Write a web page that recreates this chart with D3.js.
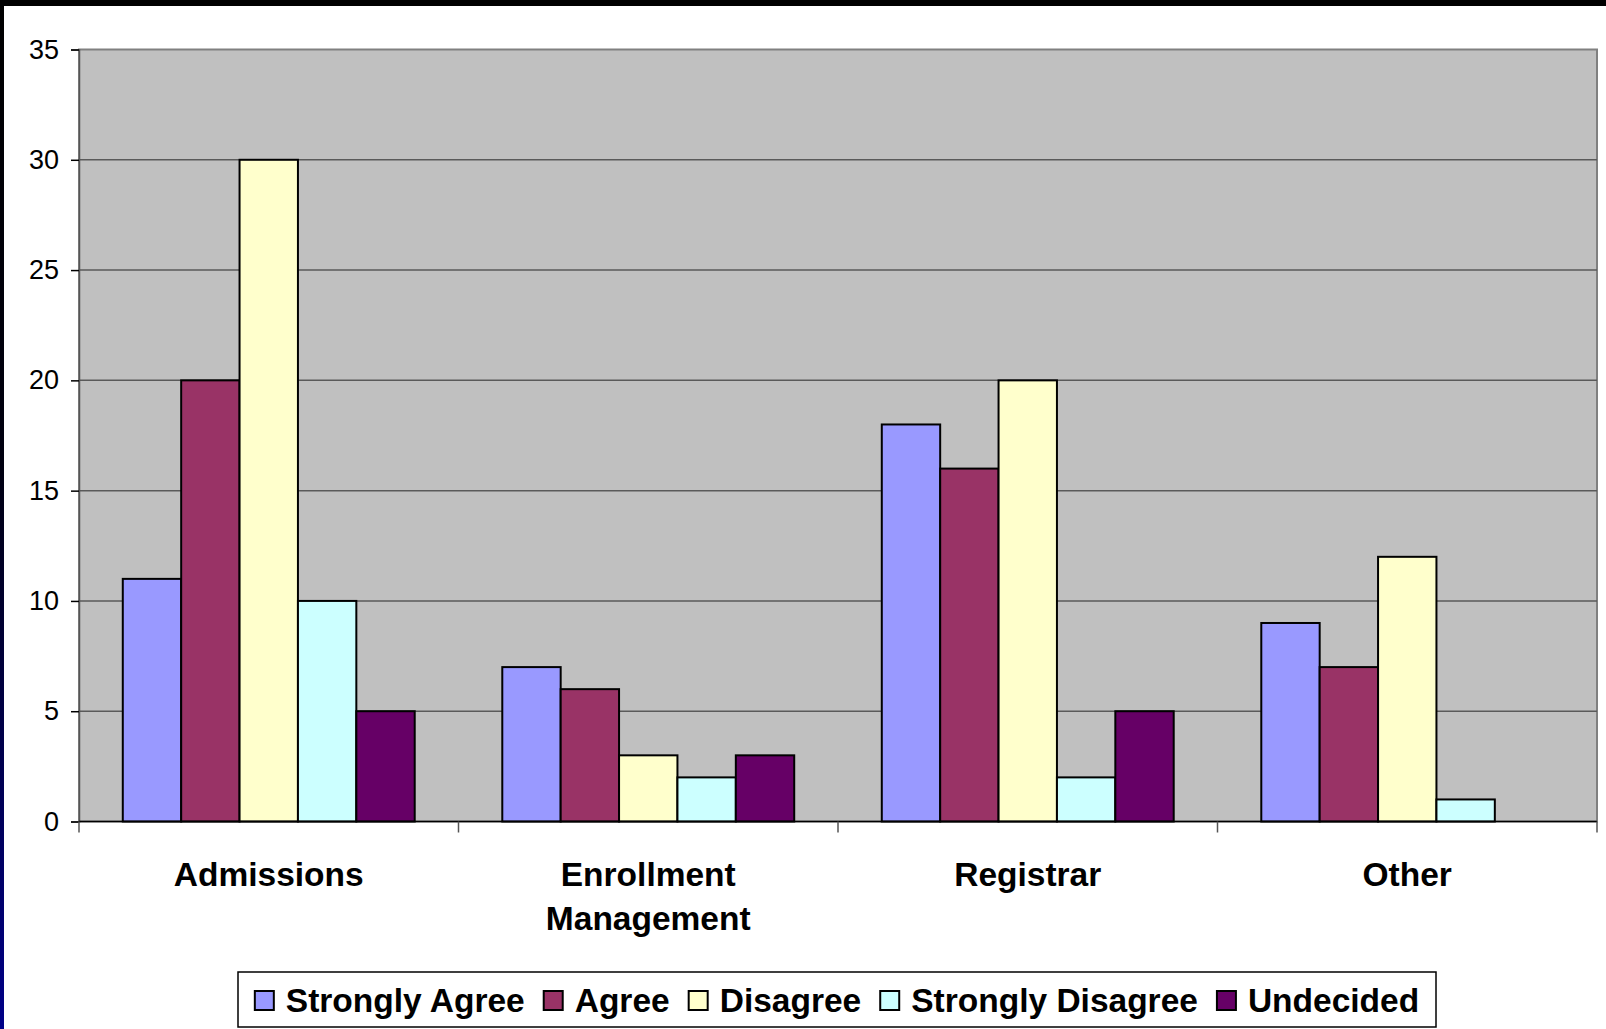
<!DOCTYPE html>
<html><head><meta charset="utf-8">
<script src="https://cdn.jsdelivr.net/npm/d3@7"></script>
<style>
html,body{margin:0;padding:0;background:#fff;}
svg{display:block;font-family:"Liberation Sans",Arial,sans-serif;}
</style></head>
<body>
<svg id="chart" width="1606" height="1029"></svg>
<script>
const categories = [["Admissions"], ["Enrollment","Management"], ["Registrar"], ["Other"]];
const seriesNames = ["Strongly Agree","Agree","Disagree","Strongly Disagree","Undecided"];
const seriesColors = ["#9999FF","#993366","#FFFFCC","#CCFFFF","#660066"];
const stronglyAgree = [11, 7, 18, 9];
const agree = [20, 6, 16, 7];
const disagree = [30, 3, 20, 12];
const stronglyDisagree = [10, 2, 2, 1];
const undecided = [5, 3, 5, 0];
const yTicks = [0,5,10,15,20,25,30,35];

const seriesValues = [stronglyAgree, agree, disagree, stronglyDisagree, undecided];

const svg = d3.select("#chart");
const W = 1606, H = 1029;
const plot = {left:79, right:1597, top:49.5, bottom:821.5};

// frame decorations
const defs = svg.append("defs");
const g1 = defs.append("linearGradient").attr("id","leftStrip").attr("x1",0).attr("y1",0).attr("x2",0).attr("y2",1);
g1.append("stop").attr("offset","0").attr("stop-color","#000000");
g1.append("stop").attr("offset","0.45").attr("stop-color","#000010");
g1.append("stop").attr("offset","1").attr("stop-color","#000088");
svg.append("rect").attr("x",0).attr("y",0).attr("width",W).attr("height",H).attr("fill","#fff");
svg.append("rect").attr("x",0).attr("y",0).attr("width",4).attr("height",H).attr("fill","url(#leftStrip)");
svg.append("rect").attr("x",0).attr("y",0).attr("width",W).attr("height",6).attr("fill","#000");

const x0 = d3.scaleBand().domain(d3.range(categories.length)).range([plot.left, plot.right]).paddingInner(0).paddingOuter(0);
const bandW = x0.bandwidth();
const barW = bandW / (seriesNames.length + 1.5);
const x1 = d3.scaleBand().domain(d3.range(seriesNames.length)).range([barW*0.75, bandW - barW*0.75]).padding(0);
const y = d3.scaleLinear().domain([0,35]).range([plot.bottom, plot.top]);

// plot background
svg.append("rect").attr("x",plot.left).attr("y",plot.top).attr("width",plot.right-plot.left).attr("height",plot.bottom-plot.top)
  .attr("fill","#C0C0C0").attr("stroke","#808080").attr("stroke-width",2);

// gridlines
svg.append("g").selectAll("line").data(yTicks.filter(t=>t>0 && t<35)).join("line")
  .attr("x1",plot.left).attr("x2",plot.right).attr("y1",d=>y(d)).attr("y2",d=>y(d))
  .attr("stroke","#5a5a5a").attr("stroke-width",1.5);

// bars
const groups = svg.append("g").selectAll("g").data(categories).join("g")
  .attr("transform",(d,i)=>`translate(${x0(i)},0)`);
groups.selectAll("rect").data((d,i)=>seriesValues.map((s,k)=>({k, v:s[i]}))).join("rect")
  .attr("x",d=>x1(d.k)).attr("width",x1.bandwidth())
  .attr("y",d=>y(d.v)).attr("height",d=>y(0)-y(d.v))
  .attr("fill",d=>seriesColors[d.k])
  .attr("stroke",d=>d.v>0?"#000":"none").attr("stroke-width",2);

// y axis
const yAxis = d3.axisLeft(y).tickValues(yTicks).tickSize(8).tickPadding(12).tickFormat(d3.format("d"));
const ya = svg.append("g").attr("transform",`translate(${plot.left},0)`).call(yAxis);
ya.select(".domain").attr("stroke","#555").attr("stroke-width",1.5);
ya.selectAll(".tick line").attr("stroke","#000").attr("stroke-width",1.5);
ya.selectAll(".tick text").attr("font-size",27).attr("fill","#000").attr("font-family","'Liberation Sans',Arial,sans-serif");

// x axis line and category ticks
const xEdges = d3.range(categories.length+1).map(i=> i<categories.length ? x0(i) : plot.right);
svg.append("line").attr("x1",plot.left).attr("x2",plot.right).attr("y1",y(0)).attr("y2",y(0)).attr("stroke","#000").attr("stroke-width",1.5);
svg.append("g").selectAll("line").data(xEdges).join("line")
  .attr("x1",d=>d).attr("x2",d=>d).attr("y1",y(0)).attr("y2",y(0)+11)
  .attr("stroke","#555").attr("stroke-width",1.5);

// category labels
const cl = svg.append("g").selectAll("text").data(categories).join("text")
  .attr("x",(d,i)=>x0(i)+bandW/2).attr("y",886)
  .attr("text-anchor","middle").attr("font-size",33.5).attr("font-weight","bold").attr("fill","#000");
cl.selectAll("tspan").data(d=>d).join("tspan")
  .attr("x",function(){return this.parentNode.getAttribute("x");})
  .attr("dy",(d,j)=>j===0?0:44).text(d=>d);

// legend
const leg = svg.append("g");
const legBox = {x:238, y:972, w:1198, h:55};
leg.append("rect").attr("x",legBox.x).attr("y",legBox.y).attr("width",legBox.w).attr("height",legBox.h)
  .attr("fill","#fff").attr("stroke","#000").attr("stroke-width",1.5);
const items = leg.selectAll("g").data(seriesNames).join("g");
items.append("text").text(d=>d).attr("font-size",33.5).attr("font-weight","bold").attr("fill","#000");
let widths = [];
items.select("text").each(function(){widths.push(this.getComputedTextLength());});
const sw = 19, gapSwText = 12, gapItem = 19;
const total = d3.sum(widths) + seriesNames.length*(sw+gapSwText) + (seriesNames.length-1)*gapItem;
let cx = legBox.x + (legBox.w - total)/2;
items.each(function(d,i){
  const g = d3.select(this);
  g.append("rect").attr("x",cx).attr("y",legBox.y+19).attr("width",sw).attr("height",sw)
    .attr("fill",seriesColors[i]).attr("stroke","#000").attr("stroke-width",2);
  g.select("text").attr("x",cx+sw+gapSwText).attr("y",legBox.y+40);
  cx += sw+gapSwText+widths[i]+gapItem;
});
</script>
</body></html>
